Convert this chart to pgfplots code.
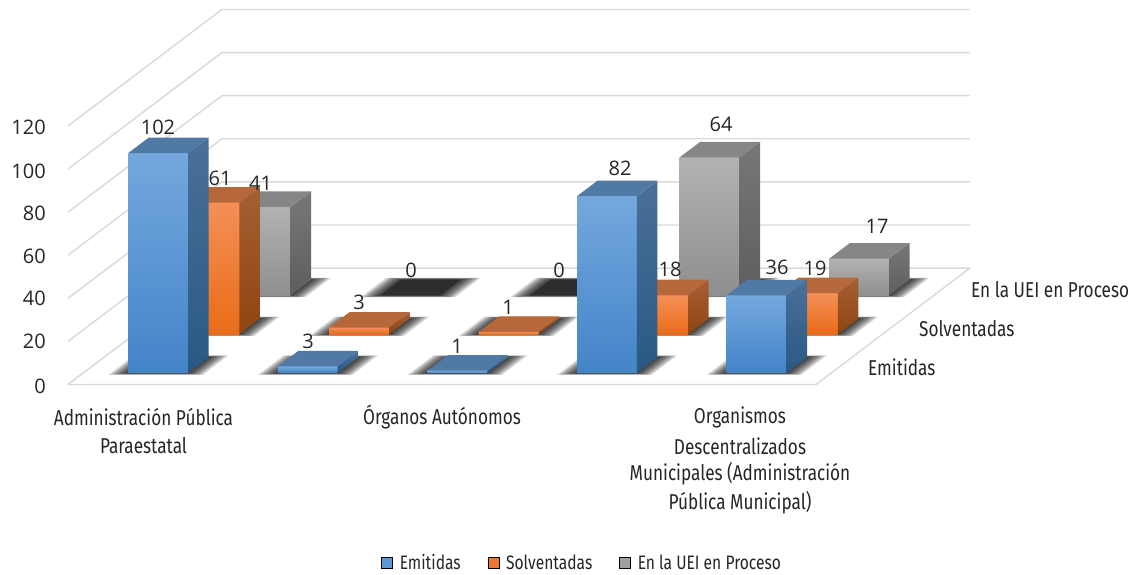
\documentclass[border=0pt]{standalone}
\usepackage{fontspec}
\usepackage{pgfplots}
\pgfplotsset{compat=1.18}
\setmainfont{Open Sans}
\newfontfamily\cond[FakeStretch=0.8]{Fira Sans}
\definecolor{gridc}{HTML}{D9D9D9}
\definecolor{txt}{HTML}{262626}
\definecolor{bF1}{HTML}{74A8DE}\definecolor{bF2}{HTML}{4384C8}
\definecolor{bS1}{HTML}{4A7098}\definecolor{bS2}{HTML}{2A5885}\definecolor{bT}{HTML}{5179A6}
\definecolor{oF1}{HTML}{F48F58}\definecolor{oF2}{HTML}{E96C17}
\definecolor{oS1}{HTML}{A55F34}\definecolor{oS2}{HTML}{8F4510}\definecolor{oT}{HTML}{B7683A}
\definecolor{gF1}{HTML}{B2B2B2}\definecolor{gF2}{HTML}{8F8F8F}
\definecolor{gS1}{HTML}{777777}\definecolor{gS2}{HTML}{5E5E5E}\definecolor{gT}{HTML}{868686}
\definecolor{zero}{HTML}{2D2D2D}
% shadow layer: cat, row, inflate x, inflate y
\newcommand\shadowlayer[4]{%
  \pgfmathsetmacro\xa{#1+0.3-#3}\pgfmathsetmacro\xb{#1+0.7+#3}%
  \pgfmathsetmacro\ya{#2+0.3-#4}\pgfmathsetmacro\yb{#2+0.7+#4}%
  \edef\tmp{\noexpand\addplot3[forget plot,draw=none,fill=black,fill opacity=0.15] coordinates {(\xa,\ya,0) (\xb,\ya,0) (\xb,\yb,0) (\xa,\yb,0) (\xa,\ya,0)};}\tmp}
% bar: cat, row, value, colour prefix
\newcommand\barthree[4]{%
  \shadowlayer{#1}{#2}{0.115}{0.05}%
  \shadowlayer{#1}{#2}{0.10}{0.045}%
  \shadowlayer{#1}{#2}{0.085}{0.04}%
  \shadowlayer{#1}{#2}{0.07}{0.035}%
  \shadowlayer{#1}{#2}{0.055}{0.03}%
  \shadowlayer{#1}{#2}{0.04}{0.025}%
  \shadowlayer{#1}{#2}{0.025}{0.02}%
  \shadowlayer{#1}{#2}{0.01}{0.01}%
  \pgfmathsetmacro\xa{#1+0.3}\pgfmathsetmacro\xb{#1+0.7}%
  \pgfmathsetmacro\ya{#2+0.3}\pgfmathsetmacro\yb{#2+0.7}%
  \ifdim #3pt=0pt
    \edef\tmp{\noexpand\addplot3[forget plot,draw=none,fill=zero] coordinates {(\xa,\ya,0) (\xb,\ya,0) (\xb,\yb,0) (\xa,\yb,0) (\xa,\ya,0)};}\tmp
  \else
    \edef\tmp{\noexpand\addplot3[forget plot,draw=none,top color=#4F1,bottom color=#4F2] coordinates {(\xa,\ya,0) (\xb,\ya,0) (\xb,\ya,#3) (\xa,\ya,#3) (\xa,\ya,0)};}\tmp
    \edef\tmp{\noexpand\addplot3[forget plot,draw=none,top color=#4S1,bottom color=#4S2] coordinates {(\xb,\ya,0) (\xb,\yb,0) (\xb,\yb,#3) (\xb,\ya,#3) (\xb,\ya,0)};}\tmp
    \edef\tmp{\noexpand\addplot3[forget plot,draw=none,fill=#4T] coordinates {(\xa,\ya,#3) (\xb,\ya,#3) (\xb,\yb,#3) (\xa,\yb,#3) (\xa,\ya,#3)};}\tmp
  \fi}
\newcommand\gridl[1]{\addplot3[forget plot,draw=gridc,line width=1.4pt] coordinates {(0,0,#1) (0,3,#1) (5,3,#1)};}
\newcommand\lab[3]{\node[text=txt,font=\fontsize{20}{24}\selectfont] at (#1pt,575pt-#2pt) {#3};}
\newcommand\cl[3]{\node[text=txt,font=\cond\fontsize{21.5}{24}\selectfont] at (#1pt,575pt-#2pt) {#3};}
\newcommand\dl[3]{\node[text=txt,anchor=west,inner sep=0pt,font=\cond\fontsize{21.5}{24}\selectfont] at (#1pt,575pt-#2pt) {#3};}
\begin{document}
\begin{tikzpicture}[x=1pt,y=1pt]
\path[use as bounding box,fill=white] (0,0) rectangle (1133pt,575pt);
\begin{axis}[
  at={(68pt,190.5pt)},anchor=origin,
  x={(149.6pt,0pt)},y={(51.3pt,38.8pt)},z={(0pt,2.155pt)},
  xmin=0,xmax=5,ymin=0,ymax=3,zmin=0,zmax=120,
  hide axis,clip=false,
  legend columns=3,
  legend style={at={(axis cs:3.437,0,-82.8)},anchor=center,draw=none,fill=none,
    font=\cond\fontsize{19.5}{22}\selectfont,text=txt,
    /tikz/every odd column/.style={column sep=5pt},
    /tikz/every even column/.style={column sep=25pt},inner sep=0pt},
  legend image code/.code={\fill[#1] (0pt,-5.5pt) rectangle (11pt,5.5pt);},
]
\gridl{0}\gridl{20}\gridl{40}\gridl{60}\gridl{80}\gridl{100}\gridl{120}
\addplot3[forget plot,draw=gridc,line width=1.4pt] coordinates {(0,0,0) (5,0,0) (5,3,0)};
% En la UEI en Proceso
\barthree{0}{2}{41}{g}
\barthree{1}{2}{0}{g}
\barthree{2}{2}{0}{g}
\barthree{3}{2}{64}{g}
\barthree{4}{2}{17}{g}
% Solventadas
\barthree{0}{1}{61}{o}
\barthree{1}{1}{3}{o}
\barthree{2}{1}{1}{o}
\barthree{3}{1}{18}{o}
\barthree{4}{1}{19}{o}
% Emitidas
\barthree{0}{0}{102}{b}
\barthree{1}{0}{3}{b}
\barthree{2}{0}{1}{b}
\barthree{3}{0}{82}{b}
\barthree{4}{0}{36}{b}
\addlegendimage{fill=bF2!50!bF1}\addlegendentry{Emitidas}
\addlegendimage{fill=oF2!65!oF1}\addlegendentry{Solventadas}
\addlegendimage{fill=gF2!50!gF1}\addlegendentry{En la UEI en Proceso}
\end{axis}
% value labels
\lab{158}{127}{102}\lab{220}{178}{61}\lab{260.5}{183}{41}
\lab{359}{302}{3}\lab{308}{341}{3}
\lab{411}{270}{0}\lab{559}{270}{0}
\lab{508}{307}{1}\lab{457}{346}{1}
\lab{620}{168}{82}\lab{670}{269}{18}\lab{721}{124}{64}
\lab{777}{267}{36}\lab{815}{268}{19}\lab{877}{226}{17}
% vertical axis labels
\foreach \v/\yy in {120/127,100/171,80/213,60/256,40/298,20/341,0/386}{
  \node[text=txt,anchor=east,inner sep=0pt,font=\fontsize{20}{24}\selectfont] at (46pt,575pt-\yy pt) {\v};}
% category labels
\cl{143.5}{417}{Administración Pública}
\cl{143.5}{446}{Paraestatal}
\cl{442}{417}{Órganos Autónomos}
\cl{740}{417}{Organismos}
\cl{740}{446}{Descentralizados}
\cl{740}{474}{Municipales (Administración}
\cl{740}{503}{Pública Municipal)}
% depth axis labels
\dl{971}{290}{En la UEI en Proceso}
\dl{919}{329}{Solventadas}
\dl{868}{367}{Emitidas}
\end{tikzpicture}
\end{document}
